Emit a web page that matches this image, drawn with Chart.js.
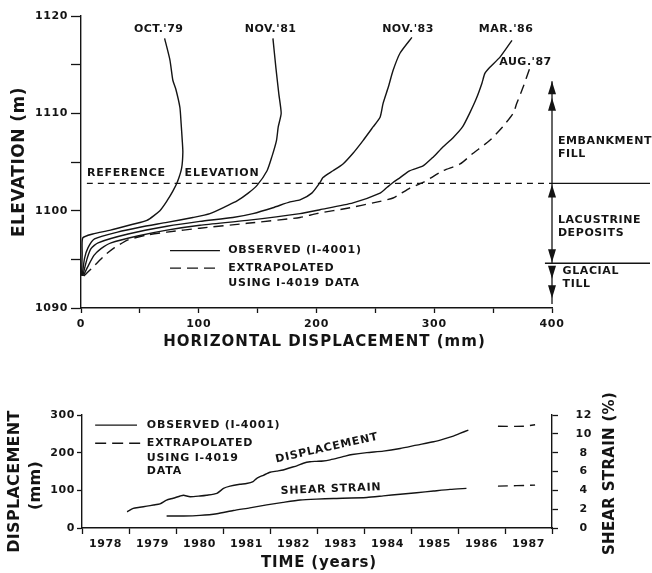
<!DOCTYPE html>
<html>
<head>
<meta charset="utf-8">
<script src="https://cdn.jsdelivr.net/npm/chart.js@4.4.1/dist/chart.umd.min.js"></script>
<style>
  html, body { margin: 0; padding: 0; background: #fff; }
  canvas { position: absolute; left: 0; }
  #top { top: 0; }
  #bottom { top: 360px; }
</style>
</head>
<body>
<canvas id="top" width="652" height="360"></canvas>
<canvas id="bottom" width="652" height="213"></canvas>
<script>
// ---- profiles: [horizontal displacement (mm), elevation (m)]
var oct79 = [[0.5,1093.3],[1,1095.5],[1.5,1097.2],[10,1097.6],[25,1098.0],[44,1098.6],[56,1099.0],[67,1100.0],[73,1101.0],[78,1102.0],[82,1103.0],[85.5,1104.4],[86.5,1106.0],[86,1107.2],[85,1109.0],[84,1110.6],[80.5,1112.5],[78,1113.4],[75.5,1115.5],[71,1117.7]];
var nov81 = [[1,1093.3],[3,1095.1],[6,1096.2],[11.5,1097.1],[31,1097.8],[50,1098.3],[73,1098.8],[95,1099.3],[109.5,1099.7],[124,1100.5],[132.5,1101.0],[142,1101.8],[149.5,1102.6],[158,1104.1],[162,1105.5],[166,1107.2],[167.5,1108.6],[170,1110.0],[168,1112.0],[165.5,1114.7],[163,1117.7]];
var nov83 = [[1.5,1093.3],[5,1095.0],[8.5,1096.1],[14.5,1096.7],[40,1097.6],[73,1098.4],[101,1098.9],[129,1099.3],[146,1099.7],[163,1100.3],[177.5,1100.9],[186,1101.1],[196,1101.8],[203,1102.9],[205.5,1103.4],[214,1104.1],[222.5,1104.8],[231,1105.9],[239.5,1107.2],[248,1108.6],[254,1109.6],[256.5,1111.0],[261,1112.7],[265,1114.4],[271,1116.2],[281,1117.8]];
var mar86 = [[2,1093.3],[6,1094.3],[11,1095.4],[17,1096.1],[25.5,1096.7],[48,1097.4],[73,1098.0],[101,1098.5],[141,1099.0],[186,1099.7],[203,1100.1],[231,1100.8],[254,1101.8],[260,1102.4],[265,1102.9],[271,1103.4],[279,1104.1],[290.5,1104.6],[299,1105.5],[307,1106.5],[316,1107.5],[324,1108.6],[330,1110.0],[336,1111.6],[340.5,1113.1],[343,1114.1],[347,1114.7],[356,1115.8],[366,1117.5]];
var aug87 = [[2.5,1093.3],[8.5,1094.0],[20,1095.4],[28.5,1096.2],[40,1097.0],[56,1097.5],[73,1097.8],[101,1098.2],[141,1098.7],[186,1099.3],[200,1099.7],[228.5,1100.3],[248,1100.8],[265,1101.3],[279,1102.3],[290.5,1102.9],[307.5,1104.1],[322,1104.8],[333,1105.9],[347,1107.2],[358,1108.6],[367,1110.0],[370,1111.0],[375.5,1112.7],[381,1114.6]];
var profileNames = ["OCT.'79", "NOV.'81", "NOV.'83", "MAR.'86", "AUG.'87"];
var refElevation = 1102.8;
var tillTop = 1094.6;

// ---- time history
var dispYears = [1978.96,1979.09,1979.23,1979.38,1979.52,1979.66,1979.80,1979.94,1980.09,1980.16,1980.30,1980.51,1980.65,1980.87,1981.01,1981.15,1981.36,1981.50,1981.64,1981.72,1981.86,1982.00,1982.14,1982.28,1982.43,1982.57,1982.71,1982.85,1982.99,1983.13,1983.28,1983.45,1983.60,1983.75,1984.06,1984.41,1984.77,1985.12,1985.48,1985.69,1985.90,1986.04,1986.22];
var dispMm = [43,52,55,58,61,64,74,79,85,87,83,85,87,92,105,111,116,118,123,132,140,148,151,154,160,165,172,176,177,178,181,186,191,195,200,204,211,220,229,236,244,251,260];
var dispExtYears = [1986.85, 1987.40, 1987.64];
var dispExtMm = [270, 270, 274];
var shearYears = [1979.80,1980.16,1980.51,1980.87,1981.22,1981.57,1981.93,1982.28,1982.64,1982.99,1983.35,1984.06,1984.41,1984.77,1985.12,1985.48,1985.83,1986.18];
var shearPct = [1.27,1.27,1.34,1.52,1.86,2.14,2.45,2.72,2.97,3.07,3.13,3.24,3.41,3.59,3.75,3.93,4.10,4.21];
var shearExtYears = [1986.85, 1987.64];
var shearExtPct = [4.45, 4.55];
var yearLabels = ['1978','1979','1980','1981','1982','1983','1984','1985','1986','1987'];

var INK = '#141414';
var FONT = '"DejaVu Sans", sans-serif';

function pairs(arr) {
    return arr.map(function (p) { return {x: p[0], y: p[1]}; });
}
function zip(xs, ys) {
    return xs.map(function (v, i) { return {x: v, y: ys[i]}; });
}
function line(data, dash, axis) {
    return {
        data: data, showLine: true, borderColor: INK, borderWidth: 1.4,
        borderDash: dash || [], pointRadius: 0, tension: 0.2, fill: false,
        yAxisID: axis || 'y'
    };
}
function say(c, str, x, y, o) {
    o = o || {};
    c.save();
    c.translate(x, y);
    if (o.rot) c.rotate(o.rot);
    c.font = (o.light ? '' : 'bold ') + (o.size || 11) + 'px ' + FONT;
    c.letterSpacing = (o.sp == null ? 0.8 : o.sp) + 'px';
    c.fillStyle = INK;
    c.textAlign = o.align || 'left';
    c.textBaseline = 'middle';
    c.fillText(str, 0, 0);
    c.restore();
}
function seg(c, x1, y1, x2, y2, dash) {
    c.save();
    c.strokeStyle = INK;
    c.lineWidth = 1.3;
    c.setLineDash(dash || []);
    c.beginPath();
    c.moveTo(x1, y1);
    c.lineTo(x2, y2);
    c.stroke();
    c.restore();
}
function head(c, x, y, dir) {
    // tip at (x, y); dir -1 points up, 1 points down
    c.save();
    c.fillStyle = INK;
    c.beginPath();
    c.moveTo(x, y);
    c.lineTo(x - 4, y - dir * 13);
    c.lineTo(x + 4, y - dir * 13);
    c.closePath();
    c.fill();
    c.restore();
}
var spacing = {
    id: 'spacing',
    beforeDraw: function (chart) { chart.ctx.letterSpacing = '0.6px'; }
};
function tickFont() { return {family: FONT, size: 11, weight: 'bold'}; }

// ---------------- top chart
var topNotes = {
    id: 'topNotes',
    afterDraw: function (chart) {
        var c = chart.ctx, sx = chart.scales.x, sy = chart.scales.y;
        function X(v) { return sx.getPixelForValue(v); }
        function Y(v) { return sy.getPixelForValue(v); }
        var spots = [[66, 1118.6], [161, 1118.6], [277.7, 1118.6], [361, 1118.6], [377.5, 1115.3]];
        profileNames.forEach(function (n, i) {
            say(c, n, X(spots[i][0]), Y(spots[i][1]), {align: 'center', sp: 0.5});
        });
        say(c, 'REFERENCE', X(5), Y(1103.9), {});
        say(c, 'ELEVATION', X(88), Y(1103.9), {});

        // legend
        seg(c, X(75.6), Y(1095.9), X(118), Y(1095.9));
        seg(c, X(75.6), Y(1094.1), X(118), Y(1094.1), [11, 6]);
        say(c, 'OBSERVED (I-4001)', X(125), Y(1095.9), {});
        say(c, 'EXTRAPOLATED', X(125), Y(1094.1), {});
        say(c, 'USING I-4019 DATA', X(125), Y(1092.6), {});

        // layer boundaries to the right of the plot
        var edge = chart.width - 2;
        seg(c, X(400), Y(refElevation), edge, Y(refElevation));
        seg(c, X(394), Y(tillTop), edge, Y(tillTop));
        var ax = X(400);
        seg(c, ax, Y(1113.3), ax, Y(refElevation));
        head(c, ax, Y(1113.3), -1);
        head(c, ax, Y(1111.6), -1);
        seg(c, ax, Y(refElevation), ax, Y(tillTop));
        head(c, ax, Y(refElevation) + 1, -1);
        head(c, ax, Y(tillTop) - 1, 1);
        seg(c, ax, Y(1094.3), ax, Y(1090.4));
        head(c, ax, Y(1093.0), 1);
        head(c, ax, Y(1091.0), 1);
        say(c, 'EMBANKMENT', X(405), Y(1107.1), {sp: 0.6});
        say(c, 'FILL', X(405), Y(1105.8), {sp: 0.6});
        say(c, 'LACUSTRINE', X(405), Y(1099.0), {sp: 0.6});
        say(c, 'DEPOSITS', X(405), Y(1097.7), {sp: 0.6});
        say(c, 'GLACIAL', X(409), Y(1093.8), {sp: 0.6});
        say(c, 'TILL', X(409), Y(1092.5), {sp: 0.6});

        // axis titles
        var area = chart.chartArea;
        say(c, 'ELEVATION (m)', 20, (area.top + area.bottom) / 2, {size: 17, sp: 0.5, align: 'center', rot: -Math.PI / 2});
        say(c, 'HORIZONTAL DISPLACEMENT (mm)', (area.left + area.right) / 2 + 8, 342, {size: 15, sp: 1, align: 'center'});
    }
};

new Chart(document.getElementById('top'), {
    type: 'scatter',
    data: {
        datasets: [
            line(pairs(oct79)), line(pairs(nov81)), line(pairs(nov83)),
            line(pairs(mar86)), line(pairs(aug87), [10, 6]),
            Object.assign(line(pairs([[5, refElevation], [400, refElevation]]), [6, 5]), {borderWidth: 1.1})
        ]
    },
    options: {
        responsive: false,
        devicePixelRatio: 1,
        animation: false,
        layout: {padding: {top: 16, right: 100, left: 0, bottom: 0}},
        plugins: {legend: {display: false}, tooltip: {enabled: false}},
        scales: {
            x: {
                type: 'linear', min: 0, max: 400,
                afterFit: function (s) { s.height = 52; s.paddingLeft = 0; s.paddingRight = 0; },
                border: {color: INK, width: 1.4},
                grid: {drawOnChartArea: false, tickLength: 5, tickColor: INK, tickWidth: 1.3},
                ticks: {
                    stepSize: 50, autoSkip: false, maxRotation: 0, padding: 5, color: INK, font: tickFont(),
                    callback: function (v) { return v % 100 === 0 ? String(v) : ''; }
                }
            },
            y: {
                min: 1090, max: 1120,
                afterFit: function (s) { s.width = 81; s.paddingTop = 0; s.paddingBottom = 0; },
                border: {color: INK, width: 1.4},
                grid: {drawOnChartArea: false, tickLength: 10, tickColor: INK, tickWidth: 1.3},
                ticks: {
                    stepSize: 5, autoSkip: false, padding: 3, color: INK, font: tickFont(),
                    callback: function (v) { return v % 10 === 0 ? String(v) : ''; }
                }
            }
        }
    },
    plugins: [spacing, topNotes]
});

// ---------------- bottom chart
var bottomNotes = {
    id: 'bottomNotes',
    afterDraw: function (chart) {
        var c = chart.ctx, sx = chart.scales.x, sy = chart.scales.y;
        function X(v) { return sx.getPixelForValue(v); }
        function Y(v) { return sy.getPixelForValue(v); }
        seg(c, X(1978.28), Y(273), X(1979.17), Y(273));
        seg(c, X(1978.28), Y(225), X(1979.30), Y(225), [11, 6]);
        say(c, 'OBSERVED (I-4001)', X(1979.38), Y(273), {});
        say(c, 'EXTRAPOLATED', X(1979.38), Y(225), {});
        say(c, 'USING I-4019', X(1979.38), Y(186), {});
        say(c, 'DATA', X(1979.38), Y(151), {});
        say(c, 'DISPLACEMENT', X(1983.21), Y(212), {align: 'center', rot: -0.22});
        say(c, 'SHEAR STRAIN', X(1983.3), Y(103), {align: 'center', rot: -0.04});

        var area = chart.chartArea;
        var mid = (area.top + area.bottom) / 2;
        say(c, 'DISPLACEMENT', 15, mid + 10, {size: 16, sp: 0.3, align: 'center', rot: -Math.PI / 2});
        say(c, '(mm)', 36, mid + 14, {size: 16, sp: 0.3, align: 'center', rot: -Math.PI / 2});
        say(c, 'SHEAR STRAIN (%)', 610, mid + 2, {size: 15, sp: 0.3, align: 'center', rot: -Math.PI / 2});
        say(c, 'TIME (years)', (area.left + area.right) / 2 + 2, 203, {size: 15, sp: 0.8, align: 'center'});
    }
};

new Chart(document.getElementById('bottom'), {
    type: 'scatter',
    data: {
        datasets: [
            line(zip(dispYears, dispMm)),
            line(zip(dispExtYears, dispExtMm), [10, 6]),
            line(zip(shearYears, shearPct), null, 'y1'),
            line(zip(shearExtYears, shearExtPct), [10, 6], 'y1')
        ]
    },
    options: {
        responsive: false,
        devicePixelRatio: 1,
        animation: false,
        layout: {padding: {top: 55, right: 0, left: 0, bottom: 0}},
        plugins: {legend: {display: false}, tooltip: {enabled: false}},
        scales: {
            x: {
                type: 'linear', min: 1978, max: 1988,
                afterFit: function (s) { s.height = 45; s.paddingLeft = 0; s.paddingRight = 0; },
                border: {color: INK, width: 1.4},
                grid: {
                    drawOnChartArea: false, tickLength: 6, tickWidth: 1.3,
                    tickColor: function (ctx) {
                        return ctx.tick && Math.abs(ctx.tick.value % 1) > 1e-6 ? 'rgba(0,0,0,0)' : INK;
                    }
                },
                ticks: {
                    stepSize: 0.5, autoSkip: false, maxRotation: 0, padding: 4, color: INK, font: tickFont(),
                    callback: function (v) {
                        return Math.abs(v % 1 - 0.5) < 1e-6 ? yearLabels[Math.floor(v) - 1978] : '';
                    }
                }
            },
            y: {
                min: 0, max: 300,
                afterFit: function (s) { s.width = 82; s.paddingTop = 0; s.paddingBottom = 0; },
                border: {color: INK, width: 1.4},
                grid: {drawOnChartArea: false, tickLength: 5, tickColor: INK, tickWidth: 1.3},
                ticks: {stepSize: 100, padding: 2, color: INK, font: tickFont()}
            },
            y1: {
                position: 'right', min: 0, max: 12,
                afterFit: function (s) { s.width = 100; s.paddingTop = 0; s.paddingBottom = 0; },
                border: {color: INK, width: 1.4},
                grid: {drawOnChartArea: false, tickLength: 6, tickColor: INK, tickWidth: 1.3},
                ticks: {stepSize: 2, padding: 18, crossAlign: 'center', color: INK, font: tickFont()}
            }
        }
    },
    plugins: [spacing, bottomNotes]
});
</script>
</body>
</html>
